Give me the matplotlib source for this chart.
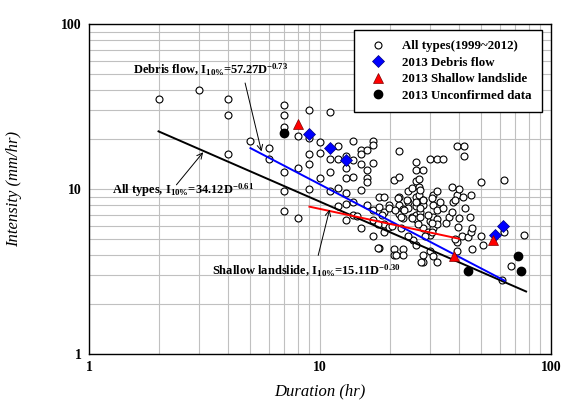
import numpy as np
import matplotlib
matplotlib.use("Agg")
import matplotlib.pyplot as plt
from matplotlib.ticker import FixedLocator, LogLocator, NullFormatter

plt.rcParams['font.family'] = ['Liberation Serif', 'DejaVu Serif']
plt.rcParams['font.weight'] = 'bold'
plt.rcParams['mathtext.fontset'] = 'custom'
plt.rcParams['mathtext.rm'] = 'Liberation Serif:bold'
plt.rcParams['mathtext.it'] = 'Liberation Serif:italic:bold'
plt.rcParams['mathtext.bf'] = 'Liberation Serif:bold'

# all rainfall events 1999~2012 (duration hr, intensity mm/hr)
all_dur = [2, 3, 4, 4, 4, 5, 6, 6, 7, 7, 7, 7, 7, 7, 8, 8, 8, 9, 9, 9, 9, 9,
           10, 10, 10, 11, 11, 11, 11, 12, 12, 12, 12, 12.9, 12.9, 12.9, 12.9, 12.9, 12.9,
           13.9, 13.9, 13.9, 13.9, 13.9, 15, 15, 15, 15, 15, 16, 16, 16, 16, 16,
           17, 17, 17, 17, 17, 17, 18, 18, 18, 18.9, 18.9, 18.9, 18.9, 19.9, 19.9, 19.9,
           21, 21, 21, 22, 22, 22, 22, 22, 22.9, 22.9, 22.9, 22.9, 24.1, 24.1, 24.1,
           24.9, 25.1, 25.3, 26, 26, 26, 26, 26, 26, 26, 26, 26.9, 26.9, 26.9, 27,
           28, 28, 28, 28, 28, 29.4, 29.9, 29.9, 29.9, 29.9, 30.9, 30.9, 30.9, 30.9, 30.9,
           32, 32, 32, 32, 32, 34.2, 34.2, 35.1, 36, 37.1, 37.6, 39, 39, 39, 39, 40, 40,
           41, 42, 42, 43.8, 44.9, 44.9, 45.7, 50, 50, 50.9, 61.1, 62.8, 62.8, 67.1, 76.6,
           21.8, 23.7, 26.1, 28, 30.6, 33, 38.3, 41.7, 21.1, 23.2, 27, 37.1, 42.3,
           18.5, 22.5, 24.9, 27, 29.4, 44.5, 17.9, 22.5, 26.6, 30.6, 39.7, 45.3, 30.6,
           24.1, 28.5, 38.3, 17.9, 28, 21.4, 27.4, 32, 27, 14.5, 20.5]
all_int = [34.9, 39.8, 34.9, 28.1, 16.2, 19.6, 17.7, 15.1, 32.2, 28.1, 23.9, 12.7, 9.7, 7.4,
           20.9, 13.4, 6.7, 30, 20.4, 16.3, 14.1, 10, 19.3, 16.5, 11.7, 29.4, 15.2, 12.7, 9.7,
           18.3, 15.2, 10.2, 7.9, 15.9, 13.4, 11.6, 9.4, 8.1, 6.5, 19.6, 14.9, 11.8, 8.4, 7.0,
           17.3, 16.2, 14.2, 9.8, 5.8, 17.3, 13.1, 11.6, 11.0, 8.0, 19.6, 18.6, 14.3, 7.5, 6.5,
           5.2, 8.9, 7.8, 4.4, 8.9, 7.3, 6.1, 5.5, 8.0, 7.7, 5.9, 11.3, 4.3, 4.0, 17.1, 11.8,
           8.9, 8.0, 7.1, 4.3, 4.0, 6.7, 7.6, 9.7, 8.4, 7.7, 6.8, 10.1, 4.9, 14.5, 13.0, 11.2,
           9.0, 7.9, 7.0, 6.6, 4.6, 11.5, 10.3, 9.2, 7.3, 13.0, 8.6, 8.0, 5.8, 3.6, 5.5, 15.3,
           6.4, 5.3, 4.2, 9.2, 8.0, 6.8, 5.8, 3.9, 15.3, 9.7, 7.5, 6.6, 6.1, 15.3, 7.7, 6.2,
           6.8, 10.3, 8.4, 18.3, 9.2, 4.8, 4.2, 10.0, 6.7, 5.2, 18.1, 15.8, 5.1, 9.2, 5.5, 4.3,
           11.0, 5.2, 4.6, 2.8, 11.3, 5.5, 3.4, 5.3,
           8.8, 8.6, 8.4, 8.6, 8.8, 8.4, 8.6, 9.0, 7.5, 7.5, 7.7, 7.3, 7.7,
           7.0, 6.8, 6.7, 6.8, 7.0, 6.8, 6.1, 5.8, 6.1, 6.2, 5.9, 5.8, 5.5,
           5.2, 5.2, 5.0, 4.4, 4.0, 4.0, 3.6, 3.6, 9.9, 6.9, 6.0]

# 2013 events
df_dur = [9.0, 11.0, 13.0, 57.2, 62.2]
df_int = [21.6, 17.7, 15.0, 5.3, 6.0]
sl_dur = [8.0, 38.1, 56.3]
sl_int = [24.8, 3.9, 4.9]
un_dur = [7.0, 43.8, 72.2, 74.2]
un_int = [22.0, 3.2, 3.9, 3.2]

# I10% threshold lines: coefficient, exponent, duration range
fit_all = (34.12, -0.61, [2, 78])
fit_df = (57.27, -0.73, [5, 63])
fit_sl = (15.11, -0.30, [9, 40])

fig = plt.figure(figsize=(5.69, 4.07), dpi=100)
ax = fig.add_axes([0.1564, 0.1302, 0.812, 0.8108])
ax.set_xscale('log')
ax.set_yscale('log')
ax.set_xlim(1, 100)
ax.set_ylim(1, 100)

ax.plot(all_dur, all_int, 'o', ms=5, mfc='white', mec='black', mew=0.8,
        zorder=2, label='All types(1999~2012)')

for (a, b, rng), c in [(fit_all, 'black'), (fit_df, 'blue'), (fit_sl, 'red')]:
    d = np.array(rng, dtype=float)
    ax.plot(d, a * d ** b, color=c, lw=1.4, zorder=3)

ax.plot(df_dur, df_int, 'D', ms=6, color='blue', mec='#000080', mew=0.5, zorder=4,
        label='2013 Debris flow')
ax.plot(sl_dur, sl_int, '^', ms=7, color='red', mec='#800000', mew=0.5, zorder=4,
        label='2013 Shallow landslide')
ax.plot(un_dur, un_int, 'o', ms=6, color='black', zorder=4,
        label='2013 Unconfirmed data')

arr = dict(arrowstyle='->', lw=0.7, color='black', shrinkA=0, shrinkB=0)
ax.annotate('', xy=(5.58, 16.9), xytext=(4.74, 43.9), arrowprops=arr)
ax.annotate('', xy=(3.12, 16.7), xytext=(2.39, 10.6), arrowprops=arr)
ax.annotate('', xy=(11.0, 7.5), xytext=(9.82, 3.96), arrowprops=arr)
ax.text(1.55, 52.6, r'Debris flow, I$_{10\%}$=57.27D$^{-0.73}$', fontsize=9,
        ha='left', va='center')
ax.text(1.258, 9.85, r'All types, I$_{10\%}$=34.12D$^{-0.61}$', fontsize=9,
        ha='left', va='center')
ax.text(3.41, 3.18, r'Shallow landslide, I$_{10\%}$=15.11D$^{-0.30}$', fontsize=9,
        ha='left', va='center')

ax.xaxis.set_major_locator(FixedLocator([1, 10, 100]))
ax.yaxis.set_major_locator(FixedLocator([1, 10, 100]))
ax.set_xticklabels(['1', '10', '100'])
ax.set_yticklabels(['1', '10', '100'])
for axis in (ax.xaxis, ax.yaxis):
    axis.set_minor_locator(LogLocator(base=10, subs=np.arange(2, 10)))
    axis.set_minor_formatter(NullFormatter())
ax.tick_params(which='both', length=0, labelsize=10, pad=5)
ax.grid(True, which='both', color='#c0c0c0', lw=0.8)
ax.set_axisbelow(True)
for s in ax.spines.values():
    s.set_linewidth(1.0)

ax.set_xlabel('Duration (hr)', fontsize=12, style='italic')
ax.set_ylabel('Intensity (mm/hr)', fontsize=12, style='italic')
ax.xaxis.set_label_coords(0.5, -0.09)
ax.yaxis.set_label_coords(-0.145, 0.5)

leg = ax.legend(loc='upper right', bbox_to_anchor=(0.9805, 0.982), fontsize=9.3,
                fancybox=False, framealpha=1, edgecolor='black', borderpad=0.8,
                handletextpad=0.9, labelspacing=0.35, borderaxespad=0)
leg.get_frame().set_linewidth(1.0)

fig.savefig('out.png', dpi=100)
